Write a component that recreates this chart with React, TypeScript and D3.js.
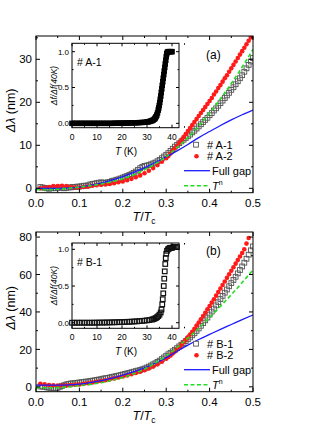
import * as d3 from 'd3';

const FONT = '"Liberation Sans", Arial, Helvetica, sans-serif';

// ---- panel (a): penetration depth vs T/Tc ----
const sampleA1: [number, number][] = [
  [0.01, 0.3], [0.015, 0.2], [0.02, 0.1], [0.025, 0.0], [0.03, -0.1], [0.035, 0.0], [0.04, 0.1], [0.045, 0.0],
  [0.05, 0.1], [0.055, 0.2], [0.06, 0.1], [0.065, 0.0], [0.07, 0.1], [0.075, 0.2], [0.08, 0.2], [0.085, 0.3],
  [0.09, 0.3], [0.095, 0.4], [0.1, 0.4], [0.105, 0.5], [0.11, 0.6], [0.115, 0.6], [0.12, 0.7], [0.125, 0.9],
  [0.13, 1.0], [0.135, 1.1], [0.14, 1.2], [0.145, 1.3], [0.15, 1.4], [0.155, 1.3], [0.16, 1.3], [0.165, 1.4],
  [0.17, 1.5], [0.175, 1.7], [0.18, 1.8], [0.185, 2.0], [0.19, 2.1], [0.195, 2.3], [0.2, 2.5], [0.205, 2.7],
  [0.21, 2.9], [0.215, 3.1], [0.22, 3.3], [0.225, 3.6], [0.23, 3.9], [0.235, 4.3], [0.24, 4.7], [0.245, 5.0],
  [0.25, 5.2], [0.255, 5.3], [0.26, 5.4], [0.265, 5.6], [0.27, 5.8], [0.275, 6.0], [0.28, 6.3], [0.285, 6.6],
  [0.29, 7.0], [0.295, 7.4], [0.3, 7.8], [0.305, 8.2], [0.31, 8.7], [0.315, 9.2], [0.32, 9.7], [0.325, 10.1],
  [0.33, 10.5], [0.335, 10.9], [0.34, 11.3], [0.345, 11.7], [0.35, 12.1], [0.355, 12.5], [0.36, 13.0], [0.365, 13.4],
  [0.37, 13.9], [0.375, 14.4], [0.38, 14.9], [0.385, 15.4], [0.39, 15.9], [0.395, 16.4], [0.4, 17.0], [0.405, 17.5],
  [0.41, 18.1], [0.415, 18.6], [0.42, 19.2], [0.425, 19.8], [0.43, 20.4], [0.435, 21.0], [0.44, 21.6], [0.445, 22.2],
  [0.45, 22.9], [0.455, 23.5], [0.46, 24.2], [0.465, 24.9], [0.47, 25.6], [0.475, 26.3], [0.48, 27.1], [0.485, 27.9],
  [0.49, 28.7], [0.495, 29.5], [0.5, 30.3],
];

const sampleA2: [number, number][] = [
  [0.01, 0.0], [0.02, 0.1], [0.03, 0.3], [0.04, 0.5], [0.05, 0.5], [0.06, 0.6], [0.07, 0.5], [0.08, 0.3],
  [0.09, 0.2], [0.1, 0.2], [0.11, 0.3], [0.12, 0.4], [0.13, 0.6], [0.14, 0.7], [0.15, 0.8], [0.16, 0.9],
  [0.17, 1.0], [0.18, 1.2], [0.19, 1.4], [0.2, 1.6], [0.21, 1.9], [0.22, 2.2], [0.23, 2.6], [0.24, 3.0],
  [0.25, 3.5], [0.26, 4.1], [0.27, 4.7], [0.28, 5.4], [0.29, 6.2], [0.3, 7.0], [0.305, 7.5], [0.31, 8.1],
  [0.315, 8.7], [0.32, 9.3], [0.325, 9.9], [0.33, 10.6], [0.335, 11.2], [0.34, 11.9], [0.345, 12.6], [0.35, 13.3],
  [0.355, 14.0], [0.36, 14.7], [0.365, 15.4], [0.37, 16.1], [0.375, 16.8], [0.38, 17.5], [0.385, 18.2], [0.39, 18.9],
  [0.395, 19.6], [0.4, 20.3], [0.405, 21.0], [0.41, 21.8], [0.415, 22.5], [0.42, 23.3], [0.425, 24.0], [0.43, 24.8],
  [0.435, 25.6], [0.44, 26.3], [0.445, 27.1], [0.45, 27.9], [0.455, 28.7], [0.46, 29.5], [0.465, 30.3], [0.47, 31.1],
  [0.475, 31.9], [0.48, 32.7], [0.485, 33.5], [0.49, 34.3], [0.495, 35.1],
];

const fullGapA: [number, number][] = [
  [0, 0.0], [0.025, 0.0], [0.05, 0.0], [0.075, 0.1], [0.1, 0.3], [0.125, 0.7], [0.15, 1.2], [0.175, 1.9],
  [0.2, 2.7], [0.225, 3.7], [0.25, 4.8], [0.275, 6.0], [0.3, 7.3], [0.325, 8.7], [0.35, 10.2], [0.375, 11.8],
  [0.4, 13.2], [0.425, 14.6], [0.45, 15.9], [0.475, 17.1], [0.5, 18.2],
];

const powerA: [number, number][] = [
  [0, -0.3], [0.025, -0.3], [0.05, -0.2], [0.075, 0.0], [0.1, 0.3], [0.125, 0.6], [0.15, 1.0], [0.175, 1.5],
  [0.2, 2.2], [0.225, 3.1], [0.25, 4.3], [0.275, 5.7], [0.3, 7.4], [0.325, 9.5], [0.35, 11.8], [0.375, 14.5],
  [0.4, 17.5], [0.425, 20.8], [0.45, 24.4], [0.475, 28.2], [0.5, 32.3],
];

// inset (a): normalised frequency shift vs T (K)
const insetA: [number, number][] = [
  [0, 0], [1, 0], [2, 0], [3, 0], [4, 0], [5, 0], [6, 0], [7, 0], [8, 0], [9, 0], [10, 0], [11, 0], [12, 0],
  [13, 0], [14, 0], [15, 0], [16, 0], [17, 0.002], [18, 0.002], [19, 0.003], [20, 0.003], [21, 0.004], [22, 0.004],
  [23, 0.005], [24, 0.006], [25, 0.007], [26, 0.008], [27, 0.01], [28, 0.012], [29, 0.015], [30, 0.019],
  [30.5, 0.022], [31, 0.026], [31.5, 0.031], [32, 0.038], [32.5, 0.047], [33, 0.06], [33.3, 0.075], [33.6, 0.093],
  [33.9, 0.115], [34.2, 0.145], [34.5, 0.185], [34.7, 0.215], [34.9, 0.25], [35.1, 0.29], [35.3, 0.335],
  [35.5, 0.38], [35.7, 0.43], [35.9, 0.48], [36.1, 0.53], [36.3, 0.58], [36.5, 0.63], [36.7, 0.68], [36.9, 0.73],
  [37.1, 0.78], [37.3, 0.83], [37.5, 0.88], [37.7, 0.93], [37.9, 0.97], [38.1, 0.99], [38.4, 1.0], [38.8, 1.0],
  [39.2, 1.0], [39.6, 1.0], [40, 1.0],
];

// ---- panel (b) ----
const sampleB1: [number, number][] = [
  [0.01, 0.2], [0.015, 0.1], [0.02, 0.0], [0.025, -0.3], [0.03, -0.5], [0.035, -0.6], [0.04, -0.6], [0.045, -0.6],
  [0.05, -0.5], [0.055, 0.0], [0.06, 0.5], [0.065, 0.9], [0.07, 1.3], [0.075, 1.6], [0.08, 1.8], [0.085, 1.9],
  [0.09, 2.0], [0.095, 2.2], [0.1, 2.3], [0.105, 2.5], [0.11, 2.6], [0.115, 2.8], [0.12, 2.9], [0.125, 3.1],
  [0.13, 3.3], [0.135, 3.5], [0.14, 3.7], [0.145, 3.9], [0.15, 4.1], [0.155, 4.4], [0.16, 4.6], [0.165, 4.8],
  [0.17, 5.0], [0.175, 5.3], [0.18, 5.5], [0.185, 5.8], [0.19, 6.0], [0.195, 6.3], [0.2, 6.6], [0.205, 6.9],
  [0.21, 7.2], [0.215, 7.5], [0.22, 7.8], [0.225, 8.1], [0.23, 8.4], [0.235, 8.7], [0.24, 9.0], [0.245, 9.4],
  [0.25, 9.8], [0.255, 10.3], [0.26, 10.8], [0.265, 11.4], [0.27, 12.0], [0.275, 12.6], [0.28, 13.3], [0.285, 14.0],
  [0.29, 14.8], [0.295, 15.7], [0.3, 16.6], [0.305, 17.4], [0.31, 18.2], [0.315, 19.0], [0.32, 19.8], [0.325, 20.7],
  [0.33, 21.6], [0.335, 22.5], [0.34, 23.4], [0.345, 24.4], [0.35, 25.4], [0.355, 26.4], [0.36, 27.5], [0.365, 28.6],
  [0.37, 29.9], [0.375, 31.2], [0.38, 32.6], [0.385, 34.0], [0.39, 35.5], [0.395, 37.0], [0.4, 38.6], [0.405, 40.2],
  [0.41, 41.8], [0.415, 43.5], [0.42, 45.2], [0.425, 46.9], [0.43, 48.6], [0.435, 50.3], [0.44, 52.0], [0.445, 53.7],
  [0.45, 55.4], [0.455, 57.1], [0.46, 58.8], [0.465, 60.6], [0.47, 62.4], [0.475, 64.3], [0.48, 66.3], [0.485, 68.4],
  [0.49, 70.6], [0.495, 72.9], [0.5, 75.0],
];

const sampleB2: [number, number][] = [
  [0.01, 1.6], [0.02, 1.3], [0.03, 1.0], [0.04, 0.8], [0.05, 0.7], [0.06, 0.7], [0.07, 0.8], [0.08, 0.9],
  [0.09, 1.1], [0.1, 1.3], [0.11, 1.6], [0.12, 1.9], [0.13, 2.3], [0.14, 2.7], [0.15, 3.1], [0.16, 3.5],
  [0.17, 4.0], [0.18, 4.5], [0.19, 5.0], [0.2, 5.5], [0.21, 6.1], [0.22, 6.7], [0.23, 7.4], [0.24, 8.1],
  [0.25, 8.9], [0.26, 9.8], [0.27, 10.8], [0.28, 12.0], [0.29, 13.4], [0.3, 15.0], [0.305, 15.9], [0.31, 16.8],
  [0.315, 17.8], [0.32, 18.9], [0.325, 20.0], [0.33, 21.2], [0.335, 22.5], [0.34, 23.8], [0.345, 25.1], [0.35, 26.5],
  [0.355, 27.9], [0.36, 29.4], [0.365, 31.0], [0.37, 32.7], [0.375, 34.4], [0.38, 36.1], [0.385, 37.8], [0.39, 39.6],
  [0.395, 41.4], [0.4, 43.2], [0.405, 45.0], [0.41, 46.8], [0.415, 48.7], [0.42, 50.6], [0.425, 52.5], [0.43, 54.4],
  [0.435, 56.3], [0.44, 58.2], [0.445, 60.1], [0.45, 62.0], [0.455, 63.9], [0.46, 65.8], [0.465, 67.7], [0.47, 69.6],
  [0.475, 71.5], [0.48, 73.5], [0.485, 76.5], [0.49, 79.5],
];

const fullGapB: [number, number][] = [
  [0, 0.9], [0.025, 0.9], [0.05, 0.9], [0.075, 1.0], [0.1, 1.4], [0.125, 2.2], [0.15, 3.3], [0.175, 4.7],
  [0.2, 6.3], [0.225, 8.1], [0.25, 10.1], [0.275, 12.6], [0.3, 15.6], [0.325, 19.0], [0.35, 22.3], [0.375, 25.3],
  [0.4, 28.0], [0.425, 30.7], [0.45, 33.3], [0.475, 35.9], [0.5, 38.4],
];

const powerB: [number, number][] = [
  [0, -0.5], [0.025, -0.5], [0.05, -0.4], [0.075, 0.0], [0.1, 0.6], [0.125, 1.3], [0.15, 2.2], [0.175, 3.5],
  [0.2, 5.0], [0.225, 7.0], [0.25, 9.5], [0.275, 12.7], [0.3, 16.5], [0.325, 21.0], [0.35, 26.0], [0.375, 31.3],
  [0.4, 37.0], [0.425, 43.0], [0.45, 49.2], [0.475, 55.7], [0.5, 62.5],
];

const insetB: [number, number][] = [
  [0, 0], [1, 0], [2, 0], [3, 0], [4, 0], [5, 0], [6, 0], [7, 0], [8, 0], [9, 0.001], [10, 0.001], [11, 0.002],
  [12, 0.002], [13, 0.003], [14, 0.003], [15, 0.004], [16, 0.005], [17, 0.006], [18, 0.007], [19, 0.008],
  [20, 0.009], [21, 0.01], [22, 0.012], [23, 0.013], [24, 0.015], [25, 0.017], [26, 0.019], [27, 0.022],
  [28, 0.025], [29, 0.028], [30, 0.032], [31, 0.037], [32, 0.043], [32.5, 0.048], [33, 0.055], [33.5, 0.063],
  [34, 0.075], [34.5, 0.09], [35, 0.11], [35.5, 0.14], [35.8, 0.18], [36.1, 0.25], [36.3, 0.32], [36.5, 0.4],
  [36.7, 0.5], [36.9, 0.6], [37.1, 0.7], [37.3, 0.8], [37.5, 0.88], [37.7, 0.94], [38, 0.98], [38.4, 1.0],
  [38.8, 1.01], [39.2, 1.02], [39.6, 1.02], [40, 1.02], [40.5, 1.03], [41, 1.03], [41.5, 1.03], [42, 1.03],
];

const xTickLabels = ['0.0', '0.1', '0.2', '0.3', '0.4', '0.5'];
const insetXTicks = ['0', '10', '20', '30', '40'];
const insetYTicks = ['0.0', '0.5', '1.0'];

type Pt = [number, number];

interface PanelProps {
  id: string;
  top: number;
  bottom: number;
  yDomain: [number, number];
  yStep: number;
  squares: Pt[];
  circles: Pt[];
  fullGap: Pt[];
  power: Pt[];
  names: [string, string];
  letter: string;
  inset: { top: number; bottom: number; yDomain: [number, number]; data: Pt[]; filled: boolean; name: string };
}

const LEFT = 36;
const RIGHT = 253;

function Panel(p: PanelProps) {
  const x = d3.scaleLinear().domain([0, 0.5]).range([LEFT, RIGHT]);
  const y = d3.scaleLinear().domain(p.yDomain).range([p.bottom, p.top]);
  const line = d3.line<Pt>().x(d => x(d[0])).y(d => y(d[1])).curve(d3.curveMonotoneX);

  const yMajor = d3.range(0, p.yDomain[1] + 1e-9, p.yStep);
  const yMinor = d3.range(p.yStep / 2, p.yDomain[1], p.yStep);
  const xMajor = xTickLabels.map(Number);
  const xMinor = d3.range(0.05, 0.5, 0.1);

  // inset
  const ix = d3.scaleLinear().domain([0, 42.8]).range([72, 179]);
  const iy = d3.scaleLinear().domain(p.inset.yDomain).range([p.inset.bottom, p.inset.top]);
  const it = p.inset;
  const iL = 72, iR = 179;

  const lg = p.bottom - 48;

  return (
    <g>
      <defs>
        <clipPath id={`clip-${p.id}`}>
          <rect x={LEFT} y={p.top} width={RIGHT - LEFT} height={p.bottom - p.top} />
        </clipPath>
      </defs>
      <g clipPath={`url(#clip-${p.id})`}>
        {p.squares.map((d, i) => (
          <rect key={`s${i}`} x={x(d[0]) - 2.4} y={y(d[1]) - 2.4} width={4.8} height={4.8}
            fill="none" stroke="#555" strokeWidth={0.9} />
        ))}
        {p.circles.map((d, i) => (
          <circle key={`c${i}`} cx={x(d[0])} cy={y(d[1])} r={2.3} fill="#ff1a1a" />
        ))}
        <path d={line(p.fullGap) ?? ''} fill="none" stroke="#1a1aff" strokeWidth={1.3} />
        <path d={line(p.power) ?? ''} fill="none" stroke="#22dd22" strokeWidth={1.6} strokeDasharray="4,2.5" />
      </g>

      {/* frame + ticks */}
      <rect x={LEFT} y={p.top} width={RIGHT - LEFT} height={p.bottom - p.top} fill="none" stroke="#000" strokeWidth={1} />
      {xMajor.map((v, i) => (
        <g key={`xm${i}`}>
          <line x1={x(v)} x2={x(v)} y1={p.bottom} y2={p.bottom - 4} stroke="#000" />
          <line x1={x(v)} x2={x(v)} y1={p.top} y2={p.top + 4} stroke="#000" />
          <text x={x(v)} y={p.bottom + 14} textAnchor="middle" fontSize={11.5} fontFamily={FONT}>{xTickLabels[i]}</text>
        </g>
      ))}
      {xMinor.map((v, i) => (
        <g key={`xn${i}`}>
          <line x1={x(v)} x2={x(v)} y1={p.bottom} y2={p.bottom - 2} stroke="#000" />
          <line x1={x(v)} x2={x(v)} y1={p.top} y2={p.top + 2} stroke="#000" />
        </g>
      ))}
      {yMajor.map((v, i) => (
        <g key={`ym${i}`}>
          <line x1={LEFT} x2={LEFT + 4} y1={y(v)} y2={y(v)} stroke="#000" />
          <line x1={RIGHT} x2={RIGHT - 4} y1={y(v)} y2={y(v)} stroke="#000" />
          <text x={32} y={y(v)} dy="0.36em" textAnchor="end" fontSize={11.5} fontFamily={FONT}>{v}</text>
        </g>
      ))}
      {yMinor.map((v, i) => (
        <g key={`yn${i}`}>
          <line x1={LEFT} x2={LEFT + 2} y1={y(v)} y2={y(v)} stroke="#000" />
          <line x1={RIGHT} x2={RIGHT - 2} y1={y(v)} y2={y(v)} stroke="#000" />
        </g>
      ))}

      {/* axis titles */}
      <text transform={`translate(15,${(p.top + p.bottom) / 2 - 4}) rotate(-90)`} textAnchor="middle"
        fontSize={12.5} fontFamily={FONT}>
        <tspan fontStyle="italic">Δλ</tspan> (nm)
      </text>
      <text x={144} y={p.bottom + 28} textAnchor="middle" fontSize={12.5} fontFamily={FONT}>
        <tspan fontStyle="italic">T</tspan>/<tspan fontStyle="italic">T</tspan>
        <tspan fontSize={8.5} dy={3}>c</tspan>
      </text>
      <text x={206} y={p.top + 23} fontSize={12} fontFamily={FONT}>{p.letter}</text>

      {/* legend */}
      <rect x={196 - 2.4} y={lg - 2.4} width={4.8} height={4.8} fill="#fff" stroke="#555" strokeWidth={0.9} />
      <text x={207} y={lg} dy="0.36em" fontSize={11} fontFamily={FONT}>{p.names[0]}</text>
      <circle cx={196.5} cy={lg + 11.5} r={2.3} fill="#ff1a1a" />
      <text x={207} y={lg + 11.5} dy="0.36em" fontSize={11} fontFamily={FONT}>{p.names[1]}</text>
      <line x1={184} x2={210} y1={lg + 26} y2={lg + 26} stroke="#1a1aff" strokeWidth={1.3} />
      <text x={212} y={lg + 26} dy="0.36em" fontSize={11} fontFamily={FONT}>Full gap</text>
      <line x1={184} x2={210} y1={lg + 41} y2={lg + 41} stroke="#22dd22" strokeWidth={1.6} strokeDasharray="4,2.5" />
      <text x={212} y={lg + 41} dy="0.36em" fontSize={11} fontFamily={FONT}>
        <tspan fontStyle="italic">T</tspan><tspan fontSize={7} dy={-5}>n</tspan>
      </text>

      {/* inset */}
      <rect x={iL} y={it.top} width={iR - iL} height={it.bottom - it.top} fill="#fff" stroke="#000" strokeWidth={1} />
      {it.data.map((d, i) => (
        <rect key={`i${i}`} x={ix(d[0]) - 2.3} y={iy(d[1]) - 2.3} width={4.6} height={4.6}
          fill={it.filled ? '#000' : 'none'} stroke={it.filled ? '#000' : '#111'} strokeWidth={it.filled ? 0.9 : 1.2} />
      ))}
      {insetXTicks.map((s, i) => (
        <g key={`ix${i}`}>
          <line x1={ix(+s)} x2={ix(+s)} y1={it.bottom} y2={it.bottom - 3} stroke="#000" />
          <line x1={ix(+s)} x2={ix(+s)} y1={it.top} y2={it.top + 3} stroke="#000" />
          <line x1={ix(+s + 5)} x2={ix(+s + 5)} y1={it.bottom} y2={it.bottom - 1.5} stroke="#000" />
          <line x1={ix(+s + 5)} x2={ix(+s + 5)} y1={it.top} y2={it.top + 1.5} stroke="#000" />
          <text x={ix(+s)} y={it.bottom + 12} textAnchor="middle" fontSize={8.5} fontFamily={FONT}>{s}</text>
        </g>
      ))}
      {insetYTicks.map((s, i) => (
        <g key={`iy${i}`}>
          <line x1={iL} x2={iL + 3} y1={iy(+s)} y2={iy(+s)} stroke="#000" />
          <line x1={iR} x2={iR - 3} y1={iy(+s)} y2={iy(+s)} stroke="#000" />
          <text x={iL - 3} y={iy(+s)} dy="0.36em" textAnchor="end" fontSize={8} fontFamily={FONT}>{s}</text>
        </g>
      ))}
      {[0.25, 0.75].map((v, i) => (
        <g key={`iyn${i}`}>
          <line x1={iL} x2={iL + 1.5} y1={iy(v)} y2={iy(v)} stroke="#000" />
          <line x1={iR} x2={iR - 1.5} y1={iy(v)} y2={iy(v)} stroke="#000" />
        </g>
      ))}
      <text x={126} y={it.bottom + 27} textAnchor="middle" fontSize={10} fontFamily={FONT}>
        <tspan fontStyle="italic">T</tspan> (K)
      </text>
      <text transform={`translate(57,${(it.top + it.bottom) / 2}) rotate(-90)`} textAnchor="middle"
        fontSize={8.5} fontStyle="italic" fontFamily={FONT}>Δf/Δf(40K)</text>
      <text x={77} y={it.top + 23} fontSize={10.5} fontFamily={FONT}>{it.name}</text>
    </g>
  );
}

export default function App() {
  return (
    <svg width={332} height={430} style={{ position: 'absolute', left: 0, top: 0, background: '#fff' }}>
      <Panel id="a" top={36} bottom={192.7} yDomain={[-1.02, 35.42]} yStep={10}
        squares={sampleA1} circles={sampleA2} fullGap={fullGapA} power={powerA}
        names={['# A-1', '# A-2']} letter="(a)"
        inset={{ top: 43.3, bottom: 127.7, yDomain: [-0.061, 1.117], data: insetA, filled: true, name: '# A-1' }} />
      <Panel id="b" top={232} bottom={391.7} yDomain={[-2.6, 82.7]} yStep={20}
        squares={sampleB1} circles={sampleB2} fullGap={fullGapB} power={powerB}
        names={['# B-1', '# B-2']} letter="(b)"
        inset={{ top: 243, bottom: 328.3, yDomain: [-0.076, 1.086], data: insetB, filled: false, name: '# B-1' }} />
    </svg>
  );
}
